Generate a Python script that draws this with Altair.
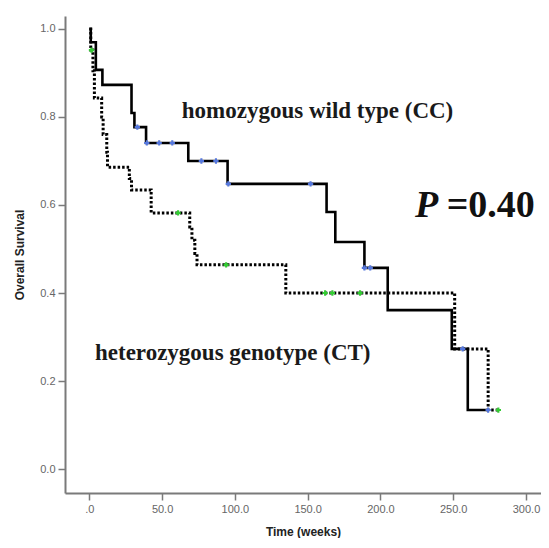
import altair as alt
import pandas as pd

# Kaplan-Meier steps
cc_times = [0, 1, 4.5, 9, 29, 31, 39, 68, 95, 163, 169, 189, 205, 249, 260, 274]
cc_surv = [1.0, 0.970, 0.907, 0.873, 0.809, 0.777, 0.741, 0.700, 0.648, 0.584, 0.516, 0.457, 0.361, 0.273, 0.134, 0.134]

ct_times = [0, 1, 2.5, 3.5, 8.5, 9.5, 12, 12.5, 27.5, 29, 42.5, 69, 70.5, 72.5, 74, 135, 251, 274, 281]
ct_surv = [1.0, 0.952, 0.905, 0.843, 0.80, 0.76, 0.72, 0.686, 0.66, 0.634, 0.582, 0.55, 0.52, 0.49, 0.464, 0.400, 0.273, 0.134, 0.134]

cc_censor = [33, 39.5, 48, 57, 77, 87, 95.5, 152, 189, 193, 256.5, 274]
ct_censor = [1.5, 61, 94, 162, 167, 186, 281]

x_ticks = [0, 50, 100, 150, 200, 250, 300]
y_ticks = [0.0, 0.2, 0.4, 0.6, 0.8, 1.0]


def step_value(times, surv, t):
    v = surv[0]
    for tt, s in zip(times, surv):
        if tt <= t:
            v = s
    return v


cc_df = pd.DataFrame({"t": cc_times, "s": cc_surv})
ct_df = pd.DataFrame({"t": ct_times, "s": ct_surv})
cc_c = pd.DataFrame({"t": cc_censor, "s": [step_value(cc_times, cc_surv, t) for t in cc_censor]})
ct_c = pd.DataFrame({"t": ct_censor, "s": [step_value(ct_times, ct_surv, t) for t in ct_censor]})

xscale = alt.Scale(domain=[-16.69, 310.3], nice=False, zero=False)
yscale = alt.Scale(domain=[-0.0545, 1.0295], nice=False, zero=False)

xaxis = alt.Axis(
    values=x_ticks,
    labelExpr="datum.value == 0 ? '.0' : format(datum.value, '.1f')",
    title="Time (weeks)",
    grid=False,
)
yaxis = alt.Axis(values=y_ticks, format=".1f", title="Overall Survival", grid=False)

X = alt.X("t:Q", scale=xscale, axis=xaxis)
Y = alt.Y("s:Q", scale=yscale, axis=yaxis)

ct_line = alt.Chart(ct_df).mark_line(
    interpolate="step-after", color="black", strokeWidth=3, strokeDash=[2.5, 2]
).encode(x=X, y=Y)

cc_line = alt.Chart(cc_df).mark_line(
    interpolate="step-after", color="black", strokeWidth=2.6
).encode(x=X, y=Y)

cc_pts = alt.Chart(cc_c).mark_point(
    shape="cross", filled=True, color="#5577dd", size=28, opacity=1
).encode(x=X, y=Y)
ct_pts = alt.Chart(ct_c).mark_point(
    shape="cross", filled=True, color="#33cc33", size=28, opacity=1
).encode(x=X, y=Y)

labels = pd.DataFrame({
    "t": [63.5, 3.9],
    "s": [0.798, 0.248],
    "txt": ["homozygous wild type (CC)", "heterozygous genotype (CT)"],
})
lab = alt.Chart(labels).mark_text(
    font="Liberation Serif", fontWeight="bold", fontSize=23, align="left",
    baseline="alphabetic", color="#1a1a1a"
).encode(x=alt.X("t:Q", scale=xscale), y=alt.Y("s:Q", scale=yscale), text="txt:N")

p_df = pd.DataFrame({"t": [223.7], "s": [0.573], "txt": ["P"]})
v_df = pd.DataFrame({"t": [245.5], "s": [0.573], "txt": ["=0.40"]})
p_txt = alt.Chart(p_df).mark_text(
    font="Liberation Serif", fontWeight="bold", fontStyle="italic", fontSize=38,
    align="left", baseline="alphabetic", color="#111"
).encode(x=alt.X("t:Q", scale=xscale), y=alt.Y("s:Q", scale=yscale), text="txt:N")
v_txt = alt.Chart(v_df).mark_text(
    font="Liberation Serif", fontWeight="bold", fontSize=38,
    align="left", baseline="alphabetic", color="#111"
).encode(x=alt.X("t:Q", scale=xscale), y=alt.Y("s:Q", scale=yscale), text="txt:N")

chart = alt.layer(ct_line, cc_line, cc_pts, ct_pts, lab, p_txt, v_txt).properties(
    width=476, height=477,
    autosize=alt.AutoSizeParams(type="none"),
    padding={"left": 57, "top": 8, "right": 0, "bottom": 45},
).configure_view(stroke=None).configure_axis(
    domainColor="#7a7a7a", domainWidth=2, tickColor="#7a7a7a", tickWidth=1.5,
    tickSize=7, labelColor="#666666", labelFont="Liberation Sans", labelFontSize=11,
    labelPadding=3, titleFont="Liberation Sans", titleFontWeight="bold",
    titleFontSize=12, titleColor="#222222",
).configure_axisY(titlePadding=13).configure_axisX(titlePadding=12)

chart.save("out.html", embed_options={"renderer": "svg", "actions": False})
